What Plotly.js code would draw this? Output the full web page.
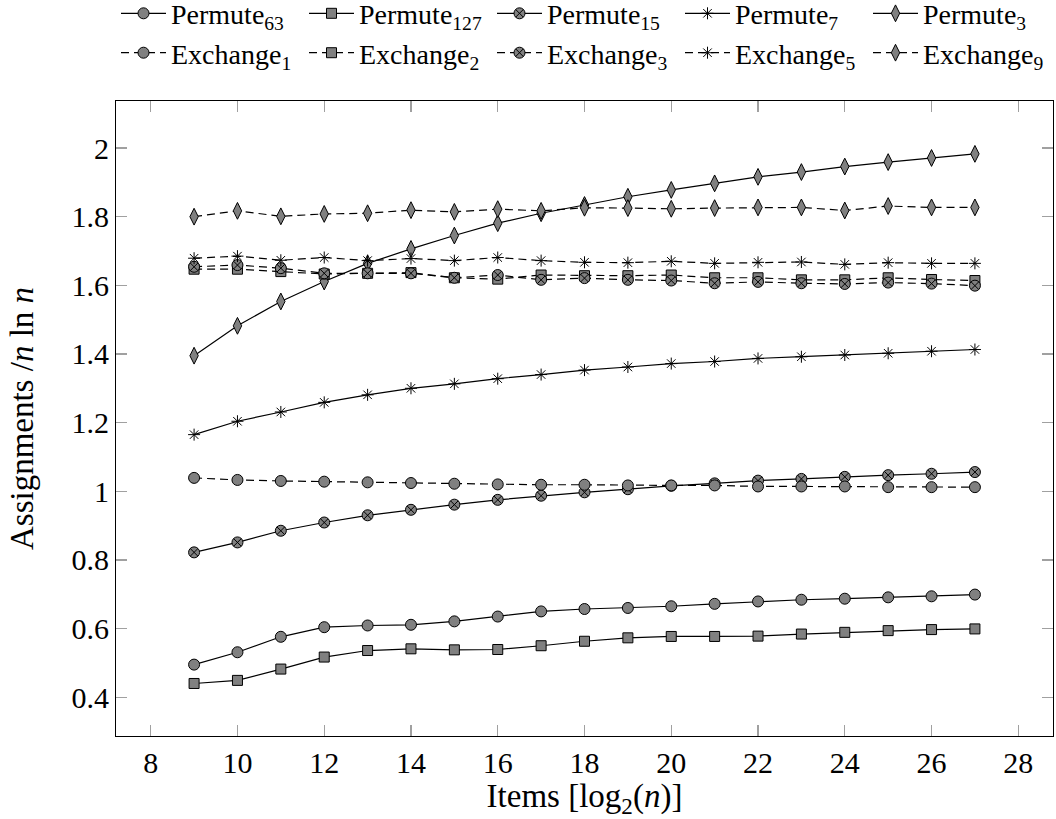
<!DOCTYPE html>
<html>
<head>
<meta charset="utf-8">
<script src="https://cdn.plot.ly/plotly-3.0.1.min.js"></script>
<style>html,body{margin:0;padding:0;background:#fff;}#chart{width:1056px;height:819px;}</style>
</head>
<body>
<div id="chart"></div>
<script>
const xItems = [9,10,11,12,13,14,15,16,17,18,19,20,21,22,23,24,25,26,27];

const permute63  = [0.495,0.531,0.576,0.604,0.609,0.611,0.621,0.635,0.650,0.657,0.660,0.665,0.672,0.679,0.684,0.687,0.691,0.694,0.699];
const permute127 = [0.440,0.449,0.482,0.517,0.536,0.541,0.538,0.539,0.550,0.563,0.573,0.577,0.577,0.578,0.584,0.589,0.594,0.597,0.599];
const permute15  = [0.822,0.851,0.885,0.909,0.930,0.946,0.961,0.975,0.987,0.997,1.006,1.016,1.023,1.031,1.036,1.042,1.047,1.051,1.056];
const permute7   = [1.165,1.204,1.231,1.259,1.281,1.300,1.313,1.328,1.340,1.353,1.362,1.372,1.378,1.387,1.392,1.397,1.402,1.408,1.413];
const permute3   = [1.395,1.482,1.553,1.611,1.664,1.706,1.745,1.781,1.810,1.834,1.858,1.878,1.897,1.916,1.930,1.946,1.959,1.971,1.983];

const exchange1 = [1.039,1.033,1.030,1.028,1.026,1.024,1.022,1.020,1.019,1.019,1.017,1.017,1.017,1.014,1.014,1.014,1.012,1.012,1.012];
const exchange2 = [1.647,1.647,1.640,1.633,1.635,1.637,1.622,1.618,1.630,1.628,1.628,1.630,1.622,1.622,1.616,1.616,1.622,1.617,1.614];
const exchange3 = [1.654,1.659,1.650,1.635,1.635,1.635,1.622,1.630,1.616,1.621,1.616,1.614,1.606,1.610,1.606,1.604,1.608,1.605,1.599];
const exchange5 = [1.679,1.685,1.673,1.681,1.672,1.678,1.672,1.681,1.672,1.667,1.666,1.670,1.664,1.667,1.668,1.661,1.666,1.664,1.664];
const exchange9 = [1.800,1.817,1.801,1.808,1.810,1.819,1.814,1.822,1.817,1.826,1.825,1.823,1.825,1.827,1.827,1.818,1.831,1.827,1.827];

const xTicks = [8,10,12,14,16,18,20,22,24,26,28];
const yTicks = [0.4,0.6,0.8,1,1.2,1.4,1.6,1.8,2];
const yTickText = ['0.4','0.6','0.8','1','1.2','1.4','1.6','1.8','2'];

const FONT = 'Liberation Serif, Times New Roman, serif';
const GRAY = '#808080';

function series(name, y, symbol, size, dashed) {
  const isStar = symbol === 'asterisk-open';
  return {
    x: xItems, y: y, name: name, type: 'scatter', mode: 'lines+markers',
    line: {color: '#000', width: 1.2, dash: dashed ? '8px,5px' : 'solid'},
    marker: {symbol: symbol, size: size, color: isStar ? '#000' : GRAY,
             line: {color: '#000', width: 1}},
    cliponaxis: false
  };
}

const data = [
  series('Permute<sub>63</sub>', permute63, 'circle', 11, false),
  series('Permute<sub>127</sub>', permute127, 'square', 10, false),
  series('Permute<sub>15</sub>', permute15, 'circle-x', 11, false),
  series('Permute<sub>7</sub>', permute7, 'asterisk-open', 10, false),
  series('Permute<sub>3</sub>', permute3, 'diamond-tall', 12, false),
  series('Exchange<sub>1</sub>', exchange1, 'circle', 11, true),
  series('Exchange<sub>2</sub>', exchange2, 'square', 10, true),
  series('Exchange<sub>3</sub>', exchange3, 'circle-x', 11, true),
  series('Exchange<sub>5</sub>', exchange5, 'asterisk-open', 10, true),
  series('Exchange<sub>9</sub>', exchange9, 'diamond-tall', 12, true)
];

const axisCommon = {
  showgrid: false, zeroline: false, showline: true, linecolor: '#000', linewidth: 1,
  mirror: 'allticks', ticks: 'inside', ticklen: 11, tickcolor: '#a0a0a0', tickwidth: 1.3,
  tickfont: {family: FONT, size: 30, color: '#000'}
};

const layout = {
  width: 1056, height: 819,
  paper_bgcolor: '#fff', plot_bgcolor: '#fff',
  margin: {l: 116, r: 3, t: 101, b: 83, autoexpand: false},
  font: {family: FONT, color: '#000'},
  xaxis: Object.assign({}, axisCommon, {
    range: [7.2, 28.8], tickvals: xTicks, ticktext: xTicks.map(String),
    title: {text: 'Items [log<sub>2</sub>(<i>n</i>)]', font: {family: FONT, size: 33}, standoff: 10}
  }),
  yaxis: Object.assign({}, axisCommon, {
    range: [0.287, 2.137], tickvals: yTicks, ticktext: yTickText,
    title: {text: 'Assignments /<i>n</i> ln <i>n</i>', font: {family: FONT, size: 33}, standoff: 27}
  }),
  showlegend: true,
  legend: {
    orientation: 'h', yref: 'paper',
    x: 0.0, xanchor: 'left', y: 1.177, yanchor: 'top',
    bgcolor: 'rgba(0,0,0,0)', borderwidth: 0,
    font: {family: FONT, size: 28, color: '#000'},
    entrywidth: 128, entrywidthmode: 'pixels', itemwidth: 45,
    traceorder: 'normal'
  }
};

Plotly.newPlot('chart', data, layout, {displayModeBar: false, staticPlot: true});
</script>
</body>
</html>
